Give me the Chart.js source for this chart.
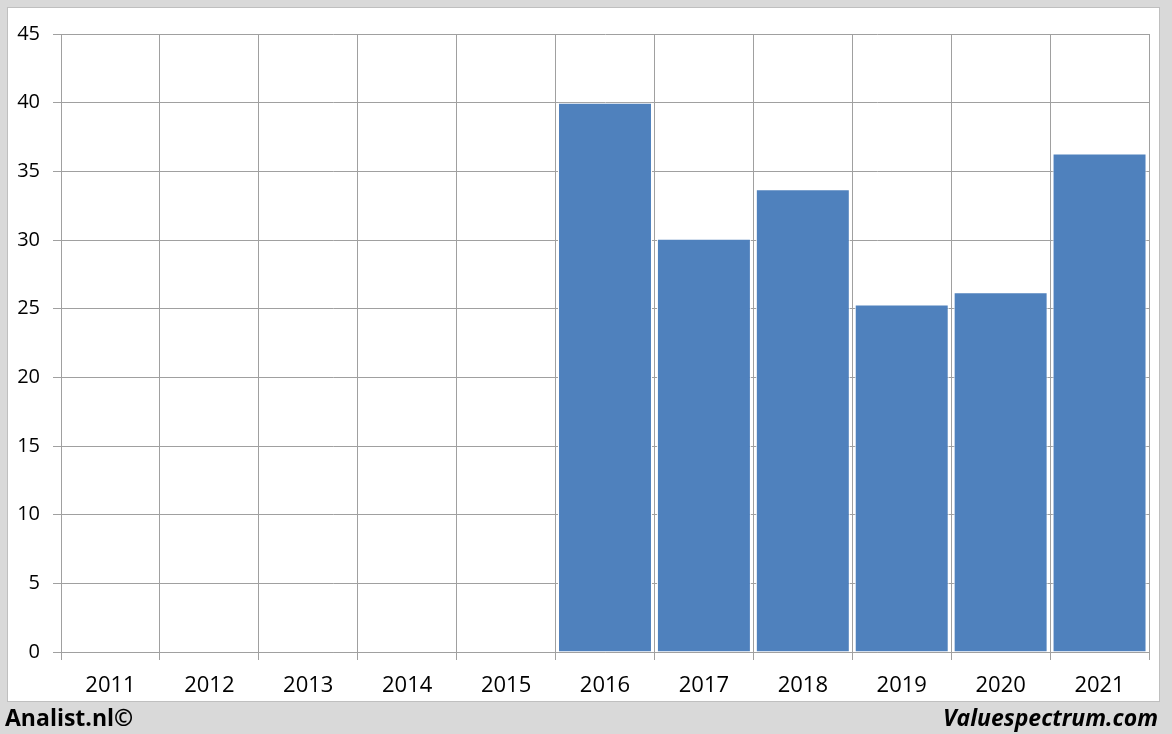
<!DOCTYPE html>
<html>
<head>
<meta charset="utf-8">
<script src="https://cdn.jsdelivr.net/npm/chart.js@4.4.1/dist/chart.umd.min.js"></script>
<style>
  html, body { margin: 0; padding: 0; }
  body { width: 1172px; height: 734px; background: #d9d9d9; position: relative; overflow: hidden; font-family: "Open Sans", sans-serif; }
  #panel { position: absolute; left: 7px; top: 7px; width: 1151px; height: 693px; background: #ffffff; border: 1px solid #bfbfbf; }
  #chart { position: absolute; left: 0; top: 0; }
  .foot { position: absolute; top: 701px; font-weight: bold; font-size: 23px; color: #000; line-height: 32px; }
  #left { left: 5px; }
  #right { right: 14px; font-style: italic; }
</style>
</head>
<body>
<div id="panel"></div>
<canvas id="chart" width="1172" height="734"></canvas>
<div class="foot" id="left">Analist.nl©</div>
<div class="foot" id="right">Valuespectrum.com</div>
<script>
// jaren en waarden
var years = ["2011", "2012", "2013", "2014", "2015", "2016", "2017", "2018", "2019", "2020", "2021"];
var values = [null, null, null, null, null, 40.0, 30.1, 33.7, 25.3, 26.2, 36.3];
var yTicks = [0, 5, 10, 15, 20, 25, 30, 35, 40, 45];

var gridColor = '#a0a0a0';
var barColor = '#4f81bd';

var chartData = {
  labels: years,
  datasets: [{
    data: values,
    backgroundColor: barColor,
    borderColor: '#ffffff',
    borderWidth: 1,
    barPercentage: 0.95,
    categoryPercentage: 1.0
  }]
};

var chartOptions = {
  responsive: false,
  animation: false,
  layout: { padding: { left: 0, top: 34, right: 23, bottom: 0 } },
  plugins: { legend: { display: false }, tooltip: { enabled: false } },
  scales: {
    x: {
      offset: true,
      grid: { offset: true, color: gridColor, tickLength: 8, tickColor: gridColor },
      border: { color: gridColor },
      ticks: { color: '#000', font: { family: 'Open Sans', size: 22 }, padding: 13, maxRotation: 0 },
      afterFit: function(scale) { scale.height = 82; }
    },
    y: {
      min: 0,
      max: 45,
      grid: { color: gridColor, tickLength: 8, tickColor: gridColor },
      border: { color: gridColor },
      ticks: {
        color: '#000',
        font: { family: 'Open Sans', size: 20 },
        padding: 13,
        stepSize: 5,
        callback: function(v) { return yTicks.indexOf(v) >= 0 ? String(v) : ''; }
      },
      afterFit: function(scale) { scale.width = 61; }
    }
  }
};

function makeChart() {
  var ctx = document.getElementById('chart').getContext('2d');
  new Chart(ctx, { type: 'bar', data: chartData, options: chartOptions });
}

makeChart();
</script>
</body>
</html>
